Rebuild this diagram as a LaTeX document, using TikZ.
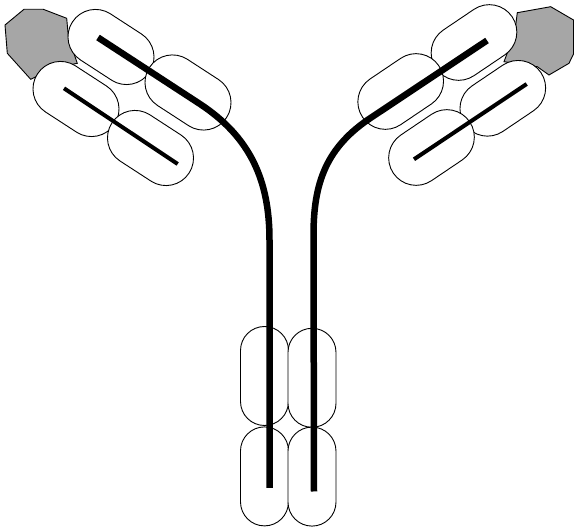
\documentclass[tikz,border=0pt]{standalone}
\definecolor{tipgray}{RGB}{166,166,166}
\begin{document}
\begin{tikzpicture}[x=1pt,y=-1pt,
  armdomain/.style={draw=black, line width=0.9pt, fill=white, rectangle,
    inner sep=0pt, outer sep=0pt, minimum width=92pt, minimum height=55pt,
    rounded corners=27.5pt},
  stemdomain/.style={draw=black, line width=0.9pt, fill=white, rectangle,
    inner sep=0pt, outer sep=0pt, minimum width=48pt, minimum height=99pt,
    rounded corners=24pt},
  heavychain/.style={draw=black, line width=6.5pt, line cap=butt},
  lightchain/.style={draw=black, line width=4pt, line cap=butt},
  tipregion/.style={draw=black, line width=0.9pt, fill=tipgray, line join=miter}]
\useasboundingbox (0,0) rectangle (574,529);

% variable tips
\filldraw[tipregion] (24,9.3) -- (43.3,9.3) -- (66.7,18.3) -- (68.5,38) -- (77.3,63.3)
  -- (53.3,68.3) -- (30.7,79.3) -- (7.3,53.3) -- (5,25) -- cycle;
\filldraw[tipregion] (517.3,12.7) -- (550.7,6.7) -- (573.5,20) -- (573.5,54) -- (569,63.3)
  -- (549,75) -- (537.3,66.7) -- (504,61.7) -- (514.7,33.3) -- cycle;

% left arm domains
\node[armdomain, rotate=-33] (LA) at (111,47) {};
\node[armdomain, rotate=-33] (LB) at (188,92.5) {};
\node[armdomain, rotate=-33] (LC) at (76,99) {};
\node[armdomain, rotate=-33] (LD) at (150.5,148) {};

% right arm domains
\node[armdomain, rotate=34] (RA) at (474,42.5) {};
\node[armdomain, rotate=34] (RB) at (400.7,91.5) {};
\node[armdomain, rotate=34] (RC) at (502.8,98.3) {};
\node[armdomain, rotate=34] (RD) at (431.5,147.5) {};

% stem domains
\node[stemdomain] (SLU) at (264.5,376) {};
\node[stemdomain] (SLL) at (264.5,476.4) {};
\node[stemdomain] (SRU) at (312,377.8) {};
\node[stemdomain] (SRL) at (312,476.6) {};

% chain end points
\coordinate (hl0) at (98,37.5);
\coordinate (hl1) at (200,104);
\coordinate (hl2) at (269.5,240);
\coordinate (hl3) at (269.5,488);
\coordinate (hr0) at (487,40.5);
\coordinate (hr1) at (372,117);
\coordinate (hr2) at (313.5,235);
\coordinate (hr3) at (314,491.5);
\coordinate (ll0) at (64,88.3);
\coordinate (ll1) at (177.7,164);
\coordinate (lr0) at (526.7,84);
\coordinate (lr1) at (414,159.3);

% heavy chains
\draw[heavychain] (hl0) -- (hl1) .. controls (250,137) and (269.5,180) .. (hl2) -- (hl3);
\draw[heavychain] (hr0) -- (hr1) .. controls (326,147) and (313.5,183) .. (hr2) -- (hr3);

% light chains
\draw[lightchain] (ll0) -- (ll1);
\draw[lightchain] (lr0) -- (lr1);
\end{tikzpicture}
\end{document}
